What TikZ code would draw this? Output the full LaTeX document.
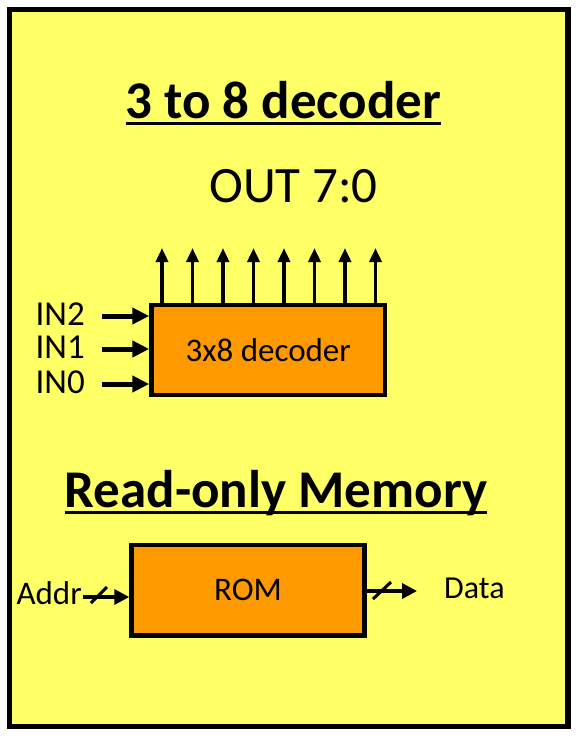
\documentclass[tikz,border=0pt]{standalone}
\usepackage{fontspec}
\setmainfont{Carlito}
\usetikzlibrary{arrows.meta,calc}
\definecolor{bgyellow}{HTML}{FFFF66}
\definecolor{boxorange}{HTML}{FF9900}
\begin{document}
\begin{tikzpicture}[x=1pt,y=-1pt,
  blk/.style={draw=black,line width=4.5pt,fill=boxorange,inner sep=0pt},
  lbl/.style={inner sep=0pt,font=\fontsize{33}{40}\selectfont},
  inlbl/.style={inner sep=0pt,anchor=base east,font=\fontsize{35}{42}\selectfont},
  ttl/.style={inner sep=0pt,anchor=base,font=\bfseries\fontsize{53}{64}\selectfont},
  uline/.style={line width=3pt},
  inarr/.style={line width=5pt,-{Triangle[length=17pt,width=16pt]}},
  outarr/.style={line width=3.5pt,-{Triangle[length=14pt,width=12pt]}},
  busarr/.style={line width=3.5pt,-{Triangle[length=15pt,width=15pt]}},
  slash/.style={line width=3pt}]
\useasboundingbox (0,0) rectangle (579,736);
\fill[white] (0,0) rectangle (579,736);
\draw[line width=5.5pt,fill=bgyellow] (9.5,9.5) rectangle (568,726.5);
% titles
\node[ttl] (t1) at (283.5,118) {3 to 8 decoder};
\draw[uline] ($(t1.base west)+(0,5)$) -- ($(t1.base east)+(0,5)$);
\node[inner sep=0pt,anchor=base,font=\fontsize{51}{60}\selectfont] (out) at (293.5,202) {OUT 7:0};
\node[ttl] (t2) at (276,507) {Read-only Memory};
\draw[uline] ($(t2.base west)+(0,5)$) -- ($(t2.base east)+(0,5)$);
% decoder
\node[blk,lbl,minimum width=233.5pt,minimum height=90pt] (dec) at (268.25,350) {3x8 decoder};
\foreach \x in {162,192.5,223,253.5,284,314.5,345,375.5}
  \draw[outarr] (\x,0 |- dec.north) -- (\x,248);
\node[inlbl] (in2) at (85,325) {IN2};
\node[inlbl] (in1) at (85,358) {IN1};
\node[inlbl] (in0) at (85,393) {IN0};
\draw[inarr] (102,316) -- (dec.west |- 0,316);
\draw[inarr] (102,349) -- (dec.west |- 0,349);
\draw[inarr] (102,384) -- (dec.west |- 0,384);
% ROM
\node[blk,lbl,minimum width=233pt,minimum height=90.5pt] (rom) at (248,590.25) {ROM};
\node[lbl,anchor=base east] (addr) at (82,604) {Addr};
\node[lbl,anchor=base west,font=\fontsize{32}{40}\selectfont] (data) at (444,598) {Data};
\coordinate (aend) at (83,597);
\coordinate (dend) at (417,591);
\draw[busarr] (aend) -- (rom.west |- aend);
\draw[slash] (91,603) -- (107,587);
\draw[busarr] (rom.east |- dend) -- (dend);
\draw[slash] (373,599) -- (391,582);
\end{tikzpicture}
\end{document}
